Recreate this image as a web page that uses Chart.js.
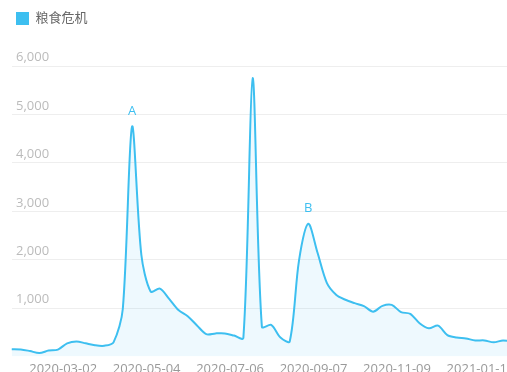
<!DOCTYPE html>
<html>
<head>
<meta charset="utf-8">
<script src="https://cdn.jsdelivr.net/npm/chart.js@4/dist/chart.umd.min.js"></script>
<style>
  html, body { margin: 0; padding: 0; background: #fff; overflow: hidden; }
  #wrap { width: 507px; height: 382px; position: relative; }
</style>
</head>
<body>
<div id="wrap"><canvas id="c" width="507" height="382"></canvas></div>
<script>
// ---- data ----
const seriesName = '粮食危机';
const categories = [
  '2020-01-23','2020-01-30','2020-02-06','2020-02-13','2020-02-20','2020-02-27',
  '2020-03-05','2020-03-12','2020-03-19','2020-03-26','2020-04-02','2020-04-09',
  '2020-04-16','2020-04-23','2020-04-30','2020-05-07','2020-05-14','2020-05-21',
  '2020-05-28','2020-06-04','2020-06-11','2020-06-18','2020-06-25','2020-07-02',
  '2020-07-09','2020-07-16','2020-07-23','2020-07-30','2020-08-06','2020-08-13',
  '2020-08-20','2020-08-27','2020-09-03','2020-09-10','2020-09-17','2020-09-24',
  '2020-10-01','2020-10-08','2020-10-15','2020-10-22','2020-10-29','2020-11-05',
  '2020-11-12','2020-11-19','2020-11-26','2020-12-03','2020-12-10','2020-12-17',
  '2020-12-24','2020-12-31','2021-01-07','2021-01-14','2021-01-21','2021-01-28',
  '2021-02-04'
];
const values = [
  150, 145, 110, 70, 120, 140,
  270, 310, 270, 230, 220, 290,
  980, 4750, 2100, 1340, 1400, 1190,
  960, 830, 640, 460, 475, 475,
  430, 380, 5750, 610, 650, 390,
  310, 1980, 2740, 2140, 1520, 1275,
  1170, 1100, 1040, 925, 1045, 1065,
  915, 880, 685, 580, 635, 440,
  390, 370, 330, 330, 290, 330,
  300
];
const tickLabels = ['2020-03-02','2020-05-04','2020-07-06','2020-09-07','2020-11-09','2021-01-11'];
const yTicks = [0, 1000, 2000, 3000, 4000, 5000, 6000];
const markLabels = ['A', 'B'];
const markDates = ['2020-04-23', '2020-09-03'];

// ---- helpers ----
const DAY = 86400000;
const origin = Date.parse(categories[0] + 'T00:00:00Z');
const dayOf = d => Math.round((Date.parse(d + 'T00:00:00Z') - origin) / DAY);
const points = categories.map((d, i) => ({ x: dayOf(d), y: values[i] }));

const lineColor = '#3dbff0';

Chart.defaults.font.family = '"Open Sans", "Noto Sans CJK SC", sans-serif';

const legendGap = {
  id: 'legendGap',
  beforeInit(chart) {
    const fit = chart.legend.fit;
    chart.legend.fit = function () {
      fit.call(this);
      this.height += 31;
    };
  }
};

const markPlugin = {
  id: 'marks',
  afterDatasetsDraw(chart) {
    const meta = chart.getDatasetMeta(0);
    const ctx = chart.ctx;
    ctx.save();
    ctx.font = '13px "Open Sans", sans-serif';
    ctx.fillStyle = lineColor;
    ctx.textAlign = 'center';
    ctx.textBaseline = 'middle';
    markDates.forEach((d, k) => {
      const idx = categories.indexOf(d);
      const el = meta.data[idx];
      ctx.fillText(markLabels[k], el.x, el.y - 15.5);
    });
    ctx.restore();
  }
};

new Chart(document.getElementById('c'), {
  type: 'line',
  data: {
    datasets: [{
      label: seriesName,
      data: points,
      borderColor: lineColor,
      backgroundColor: 'rgba(61,191,240,0.09)',
      borderWidth: 2,
      pointRadius: 0,
      pointHoverRadius: 0,
      tension: 0.3,
      fill: 'origin'
    }]
  },
  options: {
    responsive: false,
    animation: false,
    events: [],
    layout: { autoPadding: false, padding: { top: 2, left: 6, right: 0, bottom: 0 } },
    plugins: {
      legend: {
        display: true,
        position: 'top',
        align: 'start',
        labels: {
          boxWidth: 13,
          boxHeight: 13,
          padding: 10,
          color: '#666',
          font: { size: 13 },
          generateLabels(chart) {
            return [{
              text: seriesName,
              fillStyle: lineColor,
              strokeStyle: lineColor,
              fontColor: '#666',
              lineWidth: 0,
              hidden: false,
              datasetIndex: 0
            }];
          }
        }
      },
      tooltip: { enabled: false }
    },
    scales: {
      x: {
        type: 'linear',
        min: 0,
        max: 374,
        grid: { display: false, drawTicks: false },
        border: { display: false },
        afterBuildTicks(axis) {
          axis.ticks = tickLabels.map(d => ({ value: dayOf(d) }));
        },
        afterFit(axis) { axis.paddingLeft = 0; axis.paddingRight = 0; },
        ticks: {
          autoSkip: false,
          maxRotation: 0,
          padding: 5,
          color: '#999',
          font: { size: 13 },
          callback(value) {
            const i = tickLabels.findIndex(d => dayOf(d) === value);
            return i >= 0 ? tickLabels[i] : '';
          }
        }
      },
      y: {
        min: 0,
        max: 6000,
        afterFit(axis) { axis.width = 5.5; axis.paddingTop = 0; axis.paddingBottom = 0; },
        afterBuildTicks(axis) {
          axis.ticks = yTicks.map(v => ({ value: v }));
        },
        grid: {
          drawTicks: false,
          color: ctx => (ctx.tick && ctx.tick.value === 0) ? 'rgba(0,0,0,0)' : '#eeeeee',
          lineWidth: 1
        },
        border: { display: false },
        ticks: {
          mirror: true,
          padding: 4.5,
          labelOffset: -8.4,
          color: '#bbbbbb',
          font: { size: 13 },
          callback(value) {
            return value === 0 ? '' : value.toLocaleString('en-US');
          }
        }
      }
    }
  },
  plugins: [legendGap, markPlugin]
});
</script>
</body>
</html>
